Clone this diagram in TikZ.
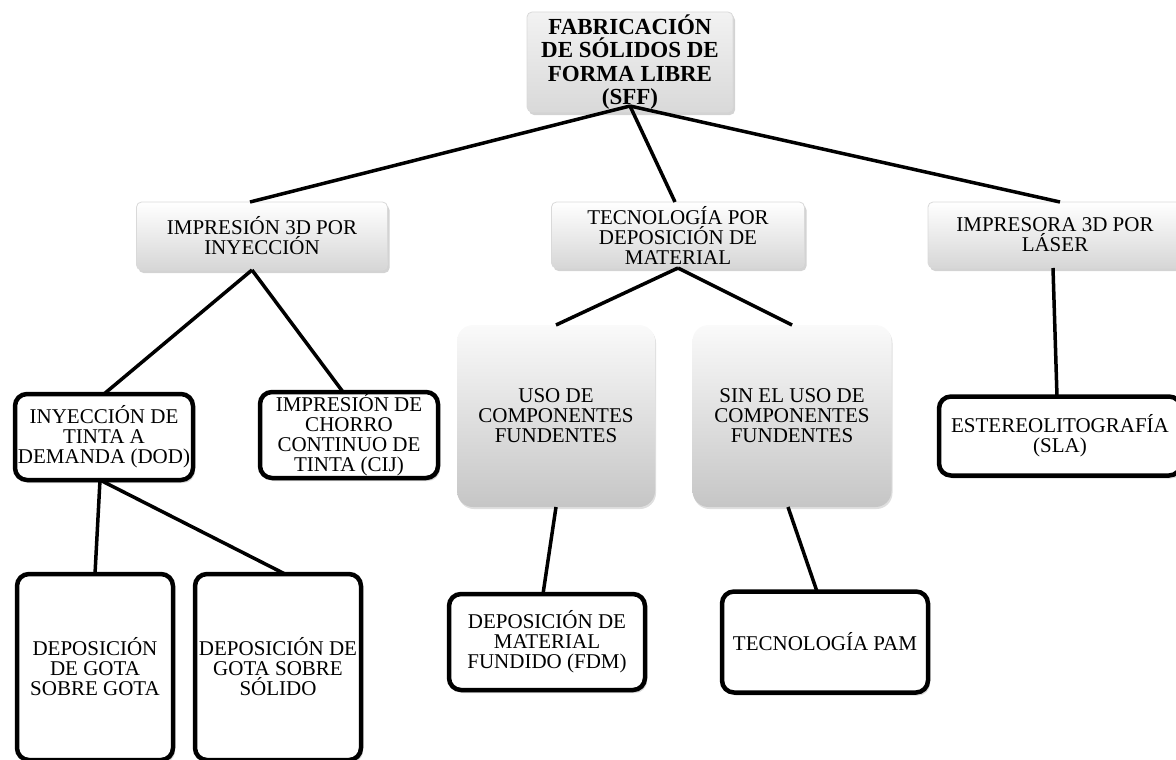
\documentclass[tikz,border=0pt]{standalone}
\usepackage{fontspec}
\setmainfont{Liberation Serif}
\usetikzlibrary{shadows}

\begin{document}
\begin{tikzpicture}[x=1pt,y=-1pt,
    txt/.style={align=center, font=\fontsize{21}{20}\selectfont, inner sep=0pt, outer sep=0pt},
    bevel/.style={txt, rounded corners=5pt, draw=gray!30, line width=0.8pt, top color=white, bottom color=gray!32,
        drop shadow={opacity=0.35, shadow xshift=2pt, shadow yshift=-3pt}},
    soft/.style={txt, rounded corners=16pt, top color=gray!4, bottom color=gray!45,
        drop shadow={opacity=0.25, shadow xshift=1pt, shadow yshift=-2pt}},
    plain/.style={txt, rounded corners=12pt, draw=black, line width=4.5pt, fill=white,
        drop shadow={opacity=0.3, shadow xshift=2pt, shadow yshift=-3pt}},
    link/.style={line width=3.5pt}]
    \useasboundingbox (0,0) rectangle (1176,760); % page = reference size in px
    % level 0
    \node[bevel, top color=gray!10, bottom color=gray!30, minimum width=206pt, minimum height=100pt,
        font=\bfseries\fontsize{23}{23.5}\selectfont] (sff) at (630,62)
        {FABRICACIÓN\\DE SÓLIDOS DE\\FORMA LIBRE\\(SFF)};
    % level 1
    \node[bevel, minimum width=251pt, minimum height=68pt] (iny) at (262,236) {IMPRESIÓN 3D POR\\INYECCIÓN};
    \node[bevel, minimum width=253pt, minimum height=66pt] (tec) at (678,235) {TECNOLOGÍA POR\\DEPOSICIÓN DE\\MATERIAL};
    \node[bevel, minimum width=254pt, minimum height=66pt] (las) at (1055,235) {IMPRESORA 3D POR\\LÁSER};
    % level 2
    \node[plain, minimum width=178pt, minimum height=86pt] (dod) at (104,437) {INYECCIÓN DE\\TINTA A\\DEMANDA (DOD)};
    \node[plain, minimum width=178pt, minimum height=86pt] (cij) at (349,435) {IMPRESIÓN DE\\CHORRO\\CONTINUO DE\\TINTA (CIJ)};
    \node[soft, minimum width=198pt, minimum height=182pt] (uso) at (556,416) {USO DE\\COMPONENTES\\FUNDENTES};
    \node[soft, minimum width=199pt, minimum height=182pt] (sin) at (792,416) {SIN EL USO DE\\COMPONENTES\\FUNDENTES};
    \node[plain, minimum width=242pt, minimum height=79pt] (sla) at (1060,436) {ESTEREOLITOGRAFÍA\\(SLA)};
    % level 3
    \node[plain, minimum width=156pt, minimum height=186pt] (gsg) at (95,667) {DEPOSICIÓN\\DE GOTA\\SOBRE GOTA};
    \node[plain, minimum width=166pt, minimum height=186pt] (gss) at (278,667) {DEPOSICIÓN DE\\GOTA SOBRE\\SÓLIDO};
    \node[plain, minimum width=196pt, minimum height=96pt] (fdm) at (547,642) {DEPOSICIÓN DE\\MATERIAL\\FUNDIDO (FDM)};
    \node[plain, minimum width=206pt, minimum height=101pt] (pam) at (825,642) {TECNOLOGÍA PAM};
    % connectors
    \draw[link] ([yshift=6]sff.south) -- ([xshift=-12]iny.north);
    \draw[link] ([yshift=6]sff.south) -- ([xshift=-3]tec.north);
    \draw[link] ([yshift=6]sff.south) -- ([xshift=5]las.north);
    \draw[link] ([xshift=-10]iny.south) -- (dod.north);
    \draw[link] ([xshift=-10]iny.south) -- ([xshift=-6]cij.north);
    \draw[link] (tec.south) -- (uso.north);
    \draw[link] (tec.south) -- (sin.north);
    \draw[link] (uso.south) -- ([xshift=-4]fdm.north);
    \draw[link] ([xshift=-4]sin.south) -- ([xshift=-8]pam.north);
    \draw[link] ([xshift=-2]las.south) -- ([xshift=-3]sla.north);
    \draw[link] ([xshift=-4]dod.south) -- (gsg.north);
    \draw[link] ([xshift=-4]dod.south) -- ([xshift=7]gss.north);
\end{tikzpicture}
\end{document}
